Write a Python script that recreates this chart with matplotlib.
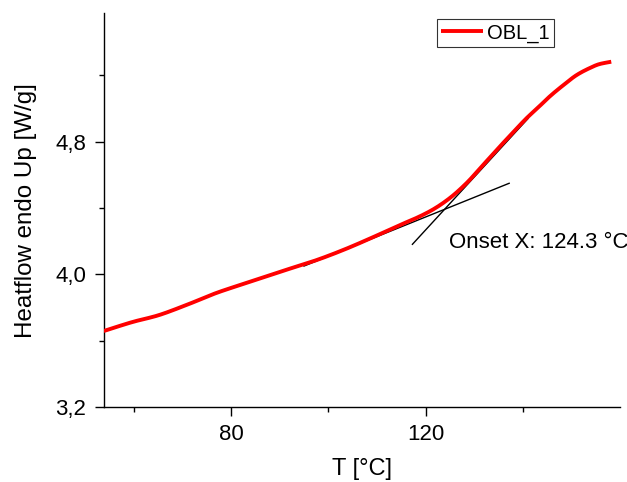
import matplotlib
matplotlib.use("Agg")
import matplotlib.pyplot as plt
import numpy as np

plt.rcParams['font.family'] = ['Liberation Sans', 'DejaVu Sans']

# Data
T = [53.8, 59.9, 64.7, 70.2, 77.1, 83.9, 90.8, 97.6, 103.0, 107.9, 114.7, 118.5,
     121.6, 125.0, 128.4, 131.8, 135.3, 138.2, 140.8, 143.3, 145.6, 148.4, 151.1,
     153.5, 155.8, 158.2]
HF = [3.658, 3.714, 3.750, 3.808, 3.889, 3.955, 4.022, 4.086, 4.146, 4.207, 4.297,
      4.345, 4.392, 4.460, 4.549, 4.658, 4.771, 4.862, 4.942, 5.010, 5.074, 5.142,
      5.202, 5.240, 5.268, 5.282]

tan1_x = [95.0, 137.2]
tan1_y = [4.050, 4.549]
tan2_x = [117.3, 141.1]
tan2_y = [4.181, 4.940]

onset_label = "Onset X: 124.3 °C"
series_name = "OBL_1"

xticks = [80, 120]
xticklabels = ["80", "120"]
xminor = [60, 100, 140]
yticks = [3.2, 4.0, 4.8]
yticklabels = ["3,2", "4,0", "4,8"]
yminor = [3.6, 4.4, 5.2]


def pchip(x, y, xs):
    x = np.asarray(x, float); y = np.asarray(y, float)
    h = np.diff(x); dl = np.diff(y) / h
    d = np.zeros_like(y)
    for k in range(1, len(x) - 1):
        if dl[k - 1] * dl[k] > 0:
            w1 = 2 * h[k] + h[k - 1]; w2 = h[k] + 2 * h[k - 1]
            d[k] = (w1 + w2) / (w1 / dl[k - 1] + w2 / dl[k])
    d[0] = dl[0]; d[-1] = dl[-1]
    out = np.empty_like(xs)
    for i, xv in enumerate(xs):
        k = int(np.clip(np.searchsorted(x, xv) - 1, 0, len(x) - 2))
        t = (xv - x[k]) / h[k]
        out[i] = ((2 * t**3 - 3 * t**2 + 1) * y[k] + (t**3 - 2 * t**2 + t) * h[k] * d[k]
                  + (-2 * t**3 + 3 * t**2) * y[k + 1] + (t**3 - t**2) * h[k] * d[k + 1])
    return out


fig = plt.figure(figsize=(6.27, 4.82), dpi=100)
L, R, B, TOP = 103.7, 620.0, 407.0, 13.3
ax = fig.add_axes([L / 627, 1 - B / 482, (R - L) / 627, (B - TOP) / 482])

xs = np.linspace(T[0], T[-1], 500)
ys = pchip(T, HF, xs)

ax.plot(xs, ys, color='#ff0000', lw=2.8, label=series_name, solid_capstyle='butt', zorder=3)
ax.plot(tan1_x, tan1_y, color='black', lw=1.0, zorder=2)
ax.plot(tan2_x, tan2_y, color='black', lw=1.0, zorder=2)

ax.text(449, 482 - 242, onset_label, transform=None, fontsize=16, va='center', ha='left')

ax.set_xlim(53.8, 160.0)
ax.set_ylim(3.2, 5.574)

ax.set_xticks(xticks)
ax.set_xticklabels(xticklabels)
ax.set_xticks(xminor, minor=True)
ax.set_yticks(yticks)
ax.set_yticklabels(yticklabels)
ax.set_yticks(yminor, minor=True)

ax.spines['top'].set_visible(False)
ax.spines['right'].set_visible(False)
for s in ['left', 'bottom']:
    ax.spines[s].set_linewidth(1.0)

ax.tick_params(which='major', direction='out', length=6.5, width=1.0, labelsize=16, pad=6)
ax.tick_params(which='minor', direction='out', length=3.6, width=1.0)

ax.set_xlabel("T [°C]", fontsize=17, labelpad=9)
ax.set_ylabel("Heatflow endo Up [W/g]", fontsize=17.4, labelpad=13)

leg = ax.legend(loc='upper left',
                bbox_to_anchor=((437 - L) / (R - L), 1 - (19.3 - TOP) / (B - TOP)),
                fontsize=14.5, frameon=True, fancybox=False, borderpad=0.2, handlelength=2.1,
                handletextpad=0.2, borderaxespad=0)
leg.get_frame().set_edgecolor('black')
leg.get_frame().set_linewidth(0.8)

fig.savefig("out.png", dpi=100)
